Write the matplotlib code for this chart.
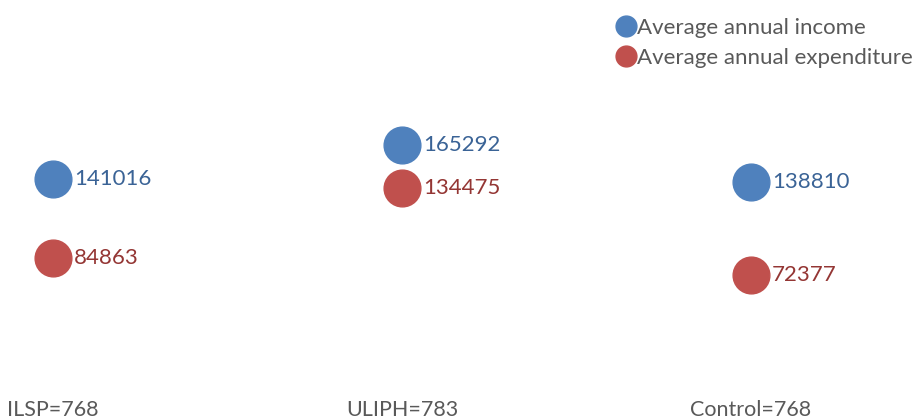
import matplotlib
matplotlib.use("Agg")
import matplotlib.pyplot as plt
from matplotlib.lines import Line2D

plt.rcParams['font.family'] = ['Lato', 'DejaVu Sans']

# data
groups = ['ILSP=768', 'ULIPH=783', 'Control=768']
income = [141016, 165292, 138810]
expenditure = [84863, 134475, 72377]

blue, red = '#4F81BD', '#C0504D'
blueText, redText = '#3A6396', '#943634'

fig = plt.figure(figsize=(9.15, 4.16), dpi=100)
W, H = 915, 416
ax = fig.add_axes([53 / W, 39 / H, 698 / W, 281 / H])
ax.set_xlim(0, len(groups) - 1)
ax.set_ylim(0, 200000)
ax.axis('off')

xs = list(range(len(groups)))
ax.scatter(xs, income, s=700, color=blue, clip_on=False, zorder=3)
ax.scatter(xs, expenditure, s=700, color=red, clip_on=False, zorder=3)

for x, v in zip(xs, income):
    ax.annotate(str(v), (x, v), xytext=(15, 0), textcoords='offset points',
                va='center', ha='left', fontsize=16, color=blueText)
for x, v in zip(xs, expenditure):
    ax.annotate(str(v), (x, v), xytext=(15, 0), textcoords='offset points',
                va='center', ha='left', fontsize=16, color=redText)

for x, g in zip(xs, groups):
    ax.annotate(g, (x, 0), xytext=(0, -24), textcoords='offset points',
                va='center', ha='center', fontsize=15.5, color='#595959',
                annotation_clip=False)

handles = [
    Line2D([], [], marker='o', ls='none', color=blue, markersize=15),
    Line2D([], [], marker='o', ls='none', color=red, markersize=15),
]
leg = fig.legend(handles, ['Average annual income', 'Average annual expenditure'],
                 loc='upper left', bbox_to_anchor=(599 / W, 1 - 2 / H),
                 frameon=False, fontsize=16, handletextpad=0.0,
                 handlelength=1.0, labelspacing=0.45, borderpad=0.2)
for t in leg.get_texts():
    t.set_color('#595959')

fig.savefig('out.png', dpi=100)
